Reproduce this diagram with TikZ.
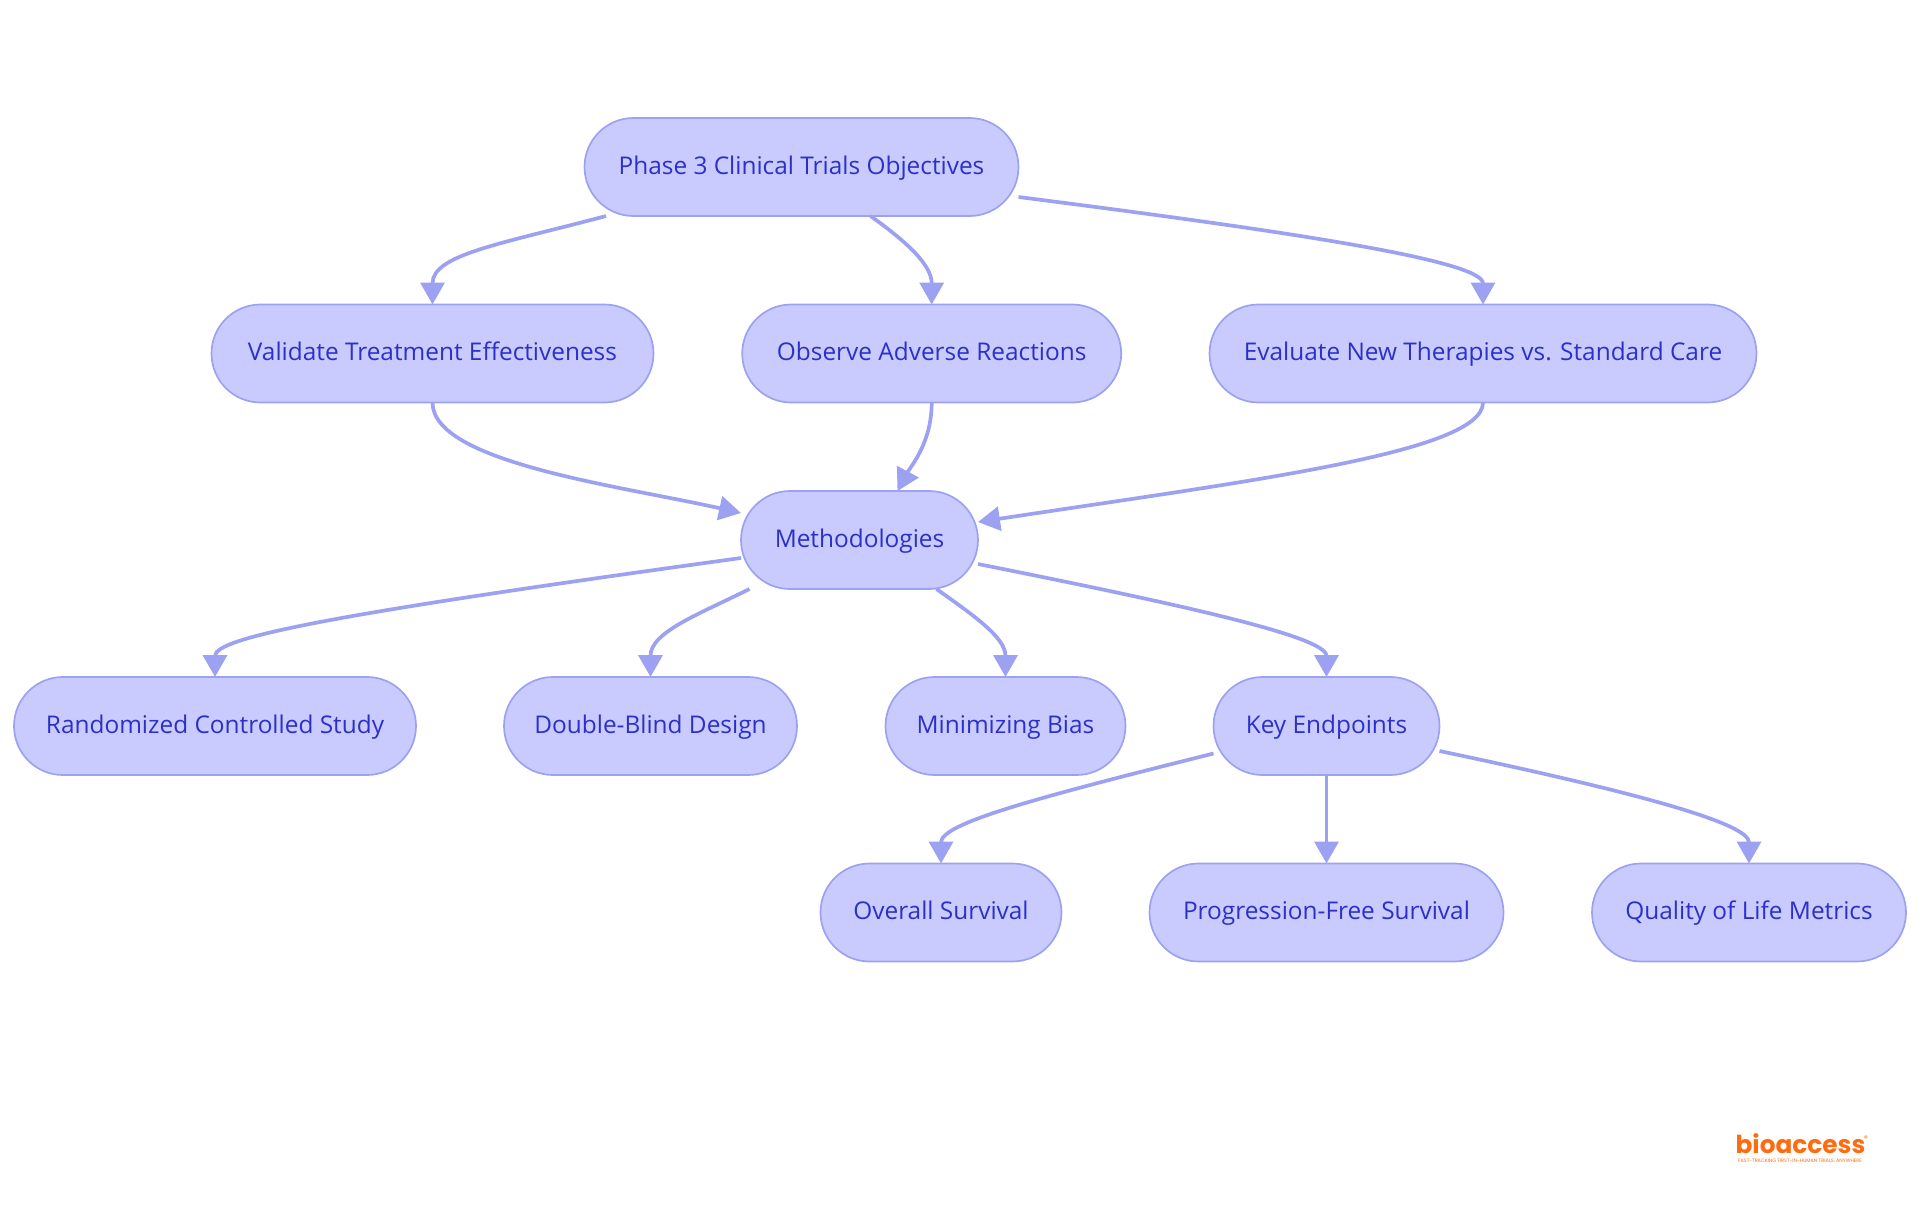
\documentclass[tikz,border=0pt]{standalone}
\usepackage{fontspec}
\setmainfont{Open Sans}
\newfontfamily\logofont{Poppins}
\usetikzlibrary{arrows.meta,shapes.misc}
\definecolor{boxfill}{HTML}{C9CBFE}
\definecolor{boxline}{HTML}{9DA1F2}
\definecolor{boxtext}{HTML}{2C30C8}
\definecolor{logoorange}{HTML}{FF6B0F}
\tikzset{
    stage/.style={rounded rectangle, draw=boxline, fill=boxfill, line width=1.7pt, text=boxtext, minimum height=98pt, inner sep=0pt, outer sep=0pt, text height=19pt, text depth=5pt, font=\fontsize{24.4}{28}\selectfont},
    link/.style={draw=boxline, line width=3.7pt, -{Triangle[length=22pt,width=24pt]}},
    logotext/.style={text=logoorange, inner sep=0pt}
}
\begin{document}
\begin{tikzpicture}[x=1pt,y=-1pt]
        \useasboundingbox (0,0) rectangle (1920,1215);
        \node[stage, minimum width=434pt] (root) at (801.5,167) {Phase 3 Clinical Trials Objectives};
        \node[stage, minimum width=442pt] (validate) at (432.5,353.5) {Validate Treatment Effectiveness};
        \node[stage, minimum width=379pt] (observe) at (931.7,353.5) {Observe Adverse Reactions};
        \node[stage, minimum width=547pt] (evaluate) at (1483,353.5) {Evaluate New Therapies vs. Standard Care};
        \node[stage, minimum width=237pt] (method) at (859.5,540) {Methodologies};
        \node[stage, minimum width=402pt] (random) at (215,726) {Randomized Controlled Study};
        \node[stage, minimum width=293pt] (blind) at (650.5,726) {Double-Blind Design};
        \node[stage, minimum width=240pt] (bias) at (1005.5,726) {Minimizing Bias};
        \node[stage, minimum width=226pt] (key) at (1326.5,726) {Key Endpoints};
        \node[stage, minimum width=241pt] (overall) at (941,912.5) {Overall Survival};
        \node[stage, minimum width=354pt] (free) at (1326.5,912.5) {Progression-Free Survival};
        \node[stage, minimum width=314pt] (quality) at (1749,912.5) {Quality of Life Metrics};
        \draw[link] ([xshift=-195.5pt]root.south) .. controls +(-105pt,-28pt) and +(0pt,50pt) .. (validate.north);
        \draw[link] ([xshift=69pt]root.south) .. controls +(35pt,-25pt) and +(0pt,40pt) .. (observe.north);
        \draw[link] ([yshift=-30pt]root.east) .. controls +(250pt,-32pt) and +(0pt,45pt) .. (evaluate.north);
        \draw[link] (validate.south) .. controls +(0pt,-60pt) and +(-120pt,27pt) .. ([yshift=27pt]method.west);
        \draw[link] (observe.south) .. controls +(0pt,-40pt) and +(14pt,26pt) .. ([xshift=38pt]method.north);
        \draw[link] (evaluate.south) .. controls +(0pt,-50pt) and +(270pt,41pt) .. ([yshift=18pt]method.east);
        \draw[link] ([yshift=-18pt]method.west) .. controls +(-400pt,-55pt) and +(0pt,40pt) .. (random.north);
        \draw[link] ([xshift=-110pt]method.south) .. controls +(-50pt,-25pt) and +(0pt,45pt) .. (blind.north);
        \draw[link] ([xshift=77pt]method.south) .. controls +(35pt,-25pt) and +(0pt,40pt) .. (bias.north);
        \draw[link] ([yshift=-24pt]method.east) .. controls +(210pt,-42pt) and +(0pt,40pt) .. (key.north);
        \draw[link] ([yshift=-27.5pt]key.west) .. controls +(-180pt,-45pt) and +(0pt,40pt) .. (overall.north);
        \draw[link] (key.south) -- (free.north);
        \draw[link] ([yshift=-25pt]key.east) .. controls +(200pt,-42pt) and +(0pt,40pt) .. (quality.north);
        \node[logotext, font=\logofont\bfseries\fontsize{24.8}{28}\selectfont] (logo) at (1800.5,1144) {bioaccess};
        \node[logotext, font=\logofont\fontsize{8}{8}\selectfont] (reg) at (1866,1139) {®};
        \node[logotext, font=\logofont\fontsize{4.9}{5}\selectfont] (tagline) at (1800,1161.5) {FAST-TRACKING FIRST-IN-HUMAN TRIALS, ANYWHERE};
    \end{tikzpicture}
\end{document}
